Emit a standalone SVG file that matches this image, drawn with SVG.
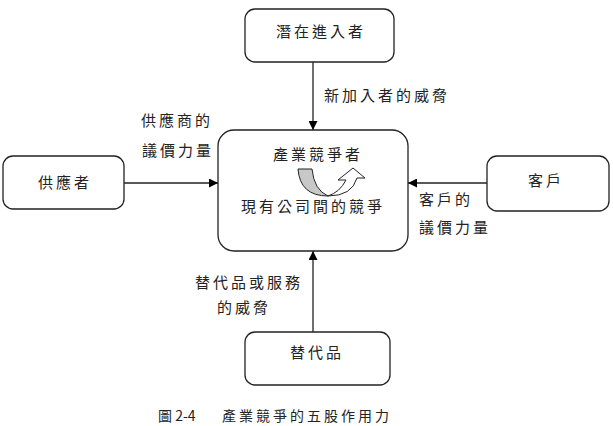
<svg xmlns="http://www.w3.org/2000/svg" width="613" height="426" viewBox="0 0 613 426">
<defs>
<marker id="ah" viewBox="0 0 10 10" refX="10" refY="5" markerWidth="9" markerHeight="9" markerUnits="userSpaceOnUse" orient="auto"><path d="M0,0 L10,5 L0,10 Z" fill="#000"/></marker>
<style>
.box{fill:#fff;stroke:#222;stroke-width:1.3}
.t{font-family:"Noto Sans CJK TC","Noto Sans CJK SC",sans-serif;font-size:15px;fill:#222;text-anchor:middle;letter-spacing:3px}
.c{stroke:#222;stroke-width:1.3;fill:none;marker-end:url(#ah)}
</style>
</defs>
<rect width="613" height="426" fill="#fff"/>
<g id="connectors">
<line class="c" x1="313" y1="62" x2="313" y2="130"/>
<line class="c" x1="124" y1="183" x2="218" y2="183"/>
<line class="c" x1="487" y1="183" x2="408" y2="183"/>
<line class="c" x1="313" y1="332" x2="313" y2="251"/>
</g>
<g id="entrants"><rect class="box" x="245" y="9" width="149" height="53" rx="10"/><text class="t" x="321" y="37">潛在進入者</text></g>
<g id="center">
<rect class="box" x="218" y="130" width="190" height="121" rx="16"/>
<text class="t" x="318" y="160">產業競爭者</text>
<path d="M298,169 L312,169 Q314,190 328,196 Q300,196 298,169 Z" fill="#c8c8c8" stroke="#222" stroke-width="1"/>
<path d="M328,196 Q352,196 357,178 L365,178 L353,168 L338,180 L346,180 Q340,192 328,196 Z" fill="#fff" stroke="#222" stroke-width="1"/>
<text class="t" x="313" y="212">現有公司間的競爭</text>
</g>
<g id="supplier"><rect class="box" x="3" y="156" width="121" height="53" rx="10"/><text class="t" x="65" y="188">供應者</text></g>
<g id="buyer"><rect class="box" x="487" y="156" width="122" height="55" rx="10"/><text class="t" x="546" y="186">客戶</text></g>
<g id="substitute"><rect class="box" x="245" y="332" width="145" height="53" rx="10"/><text class="t" x="317" y="358">替代品</text></g>
<g id="labels">
<text class="t" x="387" y="101">新加入者的威脅</text>
<text class="t" x="177" y="126">供應商的</text>
<text class="t" x="178" y="156">議價力量</text>
<text class="t" x="446" y="205">客戶的</text>
<text class="t" x="455" y="233">議價力量</text>
<text class="t" x="249" y="288">替代品或服務</text>
<text class="t" x="244" y="313">的威脅</text>
</g>
<g id="caption" style="font-family:'Noto Sans CJK TC',sans-serif;font-size:14px;fill:#222">
<text x="158" y="421">圖 2-4</text>
<text x="222" y="421" letter-spacing="3">產業競爭的五股作用力</text>
</g>
</svg>
